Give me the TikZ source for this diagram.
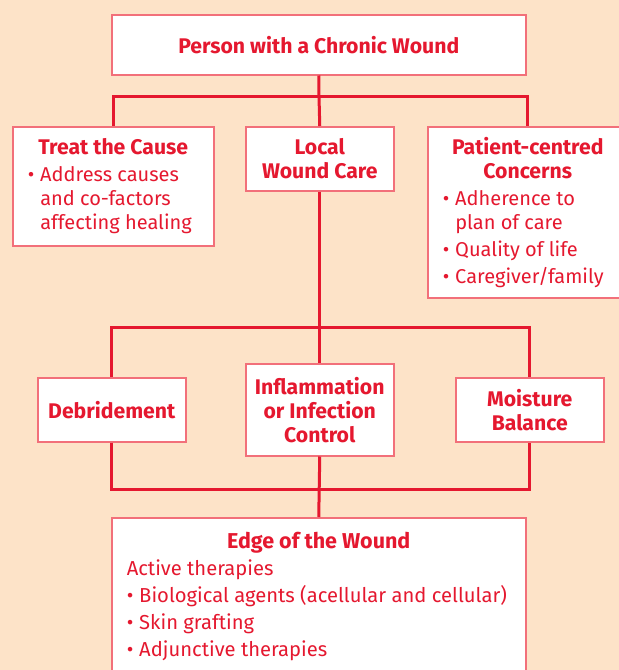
\documentclass[tikz,border=0pt]{standalone}
\usepackage{fontspec}
\setmainfont{Fira Sans}
\definecolor{bg}{HTML}{FDE3C8}
\definecolor{wred}{HTML}{E5182F}
\definecolor{bred}{HTML}{F2707A}
\newcommand{\bitem}[1]{\par\hangindent=12.5pt\hangafter=1\noindent\makebox[12.5pt][l]{\textbullet}#1\par}
\newcommand{\bfs}{\bfseries\fontsize{21.2}{24}\selectfont}
\tikzset{
  box/.style={draw=bred, line width=1.5pt, fill=white, inner sep=0pt, anchor=north west, text=wred},
  conn/.style={draw=wred, line width=3pt},
  ttl/.style={align=center, font=\bfs}
}
\begin{document}
\begin{tikzpicture}[x=1pt,y=-1pt]
\fill[bg] (0,0) rectangle (619,670);
\useasboundingbox (0,0) rectangle (619,670);

\node[box, ttl, minimum width=414, minimum height=60] (top) at (111,14) {Person with a Chronic Wound};

\node[box, minimum width=201, minimum height=119] (treat) at (12,126) {\parbox{201pt}{\fontsize{20}{24}\selectfont
  {\centering\bfs Treat the Cause\par}\vspace{3pt}
  {\raggedright\leftskip=15pt\bitem{Address causes\newline and co-factors\newline affecting healing}}}};

\node[box, ttl, minimum width=148, minimum height=64] (local) at (245,126) {Local\\Wound Care};

\node[box, minimum width=200, minimum height=171] (patient) at (427,126) {\parbox{200pt}{\fontsize{20}{24}\selectfont
  {\centering\bfs Patient-centred\\Concerns\par}
  {\raggedright\leftskip=15pt\parskip=3pt\bitem{Adherence to\newline plan of care}\bitem{Quality of life}\bitem{Caregiver/family}}}};

\node[box, ttl, minimum width=148, minimum height=64] (debr) at (37,377) {Debridement};
\node[box, ttl, minimum width=148, minimum height=92] (infl) at (245,363) {Inflammation\\or Infection\\Control};
\node[box, ttl, minimum width=148, minimum height=64] (moist) at (455,377) {Moisture\\Balance};

\node[box, minimum width=414, minimum height=180] (edge) at (111,517) {\parbox[c][180pt][t]{414pt}{\fontsize{20.2}{27}\selectfont\vspace*{14pt}
  {\centering\bfseries\fontsize{21.5}{27}\selectfont Edge of the Wound\par}
  {\raggedright\leftskip=15pt Active therapies\par
  \bitem{Biological agents (acellular and cellular)}\bitem{Skin grafting}\bitem{Adjunctive therapies}}}};

% connectors
\coordinate (j1) at (319,96);
\coordinate (j2) at (319,327);
\coordinate (j3) at (319,489);
\draw[conn] (top.south) -- (j1);
\draw[conn] (treat.north) |- (j1) -| (patient.north);
\draw[conn] (j1) -- (local.north);
\draw[conn] (local.south) -- (infl.north);
\draw[conn] (debr.north) |- (j2) -| (moist.north);
\draw[conn] (debr.south) |- (j3) -| (moist.south);
\draw[conn] (infl.south) -- (edge.north);
\end{tikzpicture}
\end{document}
